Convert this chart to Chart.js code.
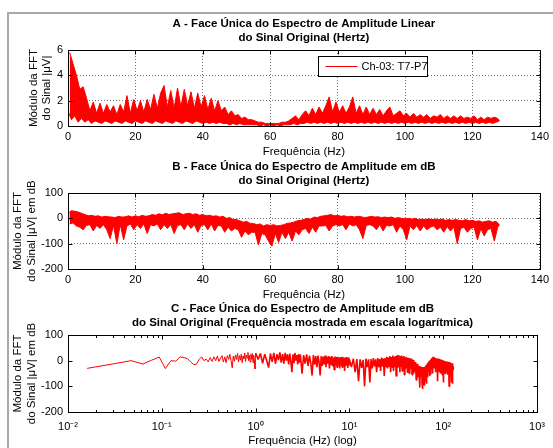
<!DOCTYPE html>
<html><head><meta charset="utf-8">
<script src="https://cdn.jsdelivr.net/npm/chart.js@4.4.1/dist/chart.umd.min.js"></script>
<style>
html,body{margin:0;padding:0;background:#fff;}
#wrap{position:relative;width:553px;height:448px;overflow:hidden;background:#fff;}
#frame{position:absolute;left:7px;top:12px;width:700px;height:600px;border-left:2px solid #a8a8a8;border-top:2px solid #a8a8a8;}
canvas{position:absolute;left:0;top:0;}
</style></head><body>
<div id="wrap"><div id="frame"></div>
<canvas id="cA" width="553" height="448"></canvas>
<canvas id="cB" width="553" height="448"></canvas>
<canvas id="cC" width="553" height="448"></canvas>
</div>
<script>
// ---------- DATA ----------
const freqStepHz = 0.5; // spacing of the sampled spectrum (0 .. 128 Hz)
const seriesLabel = 'Ch-03: T7-P7';
// Panel A : linear amplitude (µV)
const ampA = [
 1.2,5.8,0.5,4.9,0.8,4.0,0.3,2.9,0.6,3.1,
 0.3,2.2,0.5,1.2,0.2,1.9,0.4,1.0,0.3,1.8,
 0.2,1.0,0.4,1.7,0.3,1.1,0.2,1.6,0.4,0.9,
 0.3,1.7,0.2,1.1,0.4,2.4,0.3,1.0,0.2,2.1,
 0.4,1.2,0.3,2.0,0.2,1.1,0.4,2.1,0.3,1.3,
 0.2,2.5,0.4,1.4,0.3,2.6,0.2,3.2,0.4,1.5,
 0.3,2.8,0.2,1.4,0.4,3.0,0.3,1.5,0.2,2.9,
 0.4,1.6,0.3,2.7,0.2,1.4,0.4,2.6,0.3,1.5,
 0.2,2.4,0.3,1.3,0.2,2.2,0.3,1.2,0.2,2.0,
 0.3,1.2,0.2,1.5,0.2,0.9,0.1,1.2,0.2,0.8,
 0.1,0.9,0.2,0.6,0.1,0.7,0.1,0.5,0.1,0.5,
 0.1,0.4,0.1,0.3,0.0,0.3,0.1,0.2,0.0,0.2,
 0.1,0.2,0.0,0.2,0.1,0.2,0.0,0.3,0.1,0.3,
 0.1,0.4,0.1,0.6,0.2,0.8,0.1,0.5,0.2,0.9,
 0.2,1.2,0.3,0.8,0.2,1.4,0.3,0.9,0.2,1.5,
 0.3,1.0,0.2,1.6,0.3,2.3,0.2,1.1,0.3,1.9,
 0.2,1.1,0.3,1.6,0.2,1.0,0.3,1.5,0.2,2.3,
 0.3,1.0,0.2,1.6,0.3,0.9,0.2,1.5,0.3,0.9,
 0.2,1.4,0.3,0.9,0.2,1.3,0.3,0.8,0.2,1.2,
 0.3,1.5,0.2,0.8,0.3,1.0,0.2,1.2,0.3,0.8,
 0.2,1.0,0.3,0.7,0.2,1.0,0.3,0.7,0.2,0.9,
 0.3,0.7,0.2,0.9,0.3,0.6,0.2,0.8,0.3,0.7,
 0.2,0.9,0.3,0.6,0.2,0.8,0.3,0.6,0.2,0.8,
 0.3,0.6,0.2,0.8,0.3,0.6,0.2,0.7,0.3,0.6,
 0.2,0.8,0.3,0.5,0.2,0.7,0.3,0.5,0.2,0.7,
 0.3,0.6,0.2,0.7,0.3,0.6,0.4
];
// Panel B : amplitude in dB
const dbB = [
 20,-22,30,-18,28,-30,25,-35,20,-45,
 15,-28,10,-25,12,-50,8,-28,10,-40,
 5,-25,8,-45,6,-80,5,-28,3,-100,
 8,-25,5,-85,6,-30,10,-22,5,-45,
 10,-25,6,-40,12,-22,8,-60,10,-25,
 15,-30,12,-22,18,-45,14,-25,20,-40,
 15,-25,18,-60,20,-28,22,-25,15,-45,
 18,-22,20,-40,15,-25,18,-55,12,-28,
 15,-25,10,-45,12,-22,8,-50,10,-28,
 5,-30,8,-55,0,-35,3,-50,-5,-40,
 -5,-45,-10,-75,-15,-50,-12,-65,-20,-55,
 -20,-55,-25,-105,-22,-60,-30,-65,-25,-90,
 -28,-110,-25,-60,-30,-95,-28,-55,-25,-80,
 -20,-55,-18,-90,-15,-50,-10,-65,-8,-45,
 -5,-40,0,-60,-3,-35,5,-55,3,-30,
 8,-30,10,-28,12,-50,15,-30,10,-25,
 12,-30,8,-25,10,-45,6,-22,8,-30,
 5,-25,8,-45,6,-80,3,-28,5,-25,
 8,-30,5,-45,6,-25,3,-50,5,-28,
 3,-30,5,-25,0,-55,3,-30,0,-45,
 -2,-85,0,-30,-3,-45,0,-28,-5,-50,
 -3,-30,-5,-45,-2,-35,-5,-30,-3,-45,
 -5,-35,-3,-55,-8,-32,-5,-50,-8,-35,
 -5,-100,-8,-40,-10,-35,-5,-55,-10,-40,
 -8,-35,-12,-85,-10,-40,-15,-70,-12,-45,
 -10,-40,-15,-90,-12,-35,-25
];
// Panel C : low-frequency part (below 10 Hz); above 10 Hz it reuses dbB
const cLowFreq = [
 0.016,0.031,0.047,0.063,0.078,0.094,0.109,0.125,0.141,0.156,0.172,0.188,0.203,0.219,0.234,0.25,
 0.266,0.281,0.297,0.313,0.328,0.344,0.359,0.375,0.391,0.406,0.422,0.438,0.453,0.469,0.484,0.5,
 0.516,0.531,0.547,0.563,0.578,0.594,0.609,0.625,0.641,0.656,0.672,0.688,0.703,0.719,0.734,0.75,
 0.766,0.781,0.797,0.813,0.828,0.844,0.859,0.875,0.891,0.906,0.922,0.938,0.953,0.969,0.984,1.0,
 1.063,1.125,1.188,1.25,1.313,1.375,1.438,1.5,1.563,1.625,1.688,1.75,1.813,1.875,1.938,2.0,
 2.063,2.125,2.188,2.25,2.313,2.375,2.438,2.5,2.563,2.625,2.688,2.75,2.813,2.875,2.938,3.0,
 3.125,3.25,3.375,3.5,3.625,3.75,3.875,4.0,4.125,4.25,4.375,4.5,4.625,4.75,4.875,5.0,
 5.125,5.25,5.375,5.5,5.625,5.75,5.875,6.0,6.125,6.25,6.375,6.5,6.625,6.75,6.875,7.0,
 7.125,7.25,7.375,7.5,7.625,7.75,7.875,8.0,8.125,8.25,8.375,8.5,8.625,8.75,8.875,9.0,
 9.125,9.25,9.375,9.5,9.625,9.75,9.875
];
const cLowDb = [
 -30,-12,0,-13,2,14,-31,0,-2,15,12,8,-5,-15,-14,5,
 15,0,6,-5,12,-3,15,0,18,-3,10,20,-5,15,-8,20,
 5,25,0,-28,18,-2,22,5,28,-5,20,2,25,-8,18,8,
 30,-3,22,10,32,0,20,-5,25,5,28,-8,22,2,-32,30,
 5,28,-10,25,0,-27,28,-5,30,-12,25,2,32,-8,26,-12,
 30,0,25,-15,28,-5,-45,25,-10,30,0,22,-15,26,-8,24,
 -51,22,-12,25,-20,20,-10,-58,22,-15,18,-25,20,-8,-58,18,
 -20,16,-15,20,-25,15,-12,18,-30,15,-15,18,-22,12,-35,16,
 -18,14,-25,15,-15,12,-30,14,-20,12,-25,15,-15,10,-40,12,
 -22,14,-18,10,-28,12,-20
];
const cSplitHz = 10;
// Axes
const xTicksLin = [0,20,40,60,80,100,120,140];
const yTicksA = [0,2,4,6];
const yTicksDb = [-200,-100,0,100];
const xTicksLog = [0.01,0.1,1,10,100,1000];
const xTickLabelsLog = ['10\u207B\u00B2','10\u207B\u00B9','10\u2070','10\u00B9','10\u00B2','10\u00B3'];
const titleA = ['A - Face \u00DAnica do Espectro de Amplitude Linear','do Sinal Original (Hertz)'];
const titleB = ['B - Face \u00DAnica do Espectro de Amplitude em dB','do Sinal Original (Hertz)'];
const titleC = ['C - Face \u00DAnica do Espectro de Amplitude em dB','do Sinal Original (Frequ\u00EAncia mostrada em escala logar\u00EDtmica)'];
const yLabelA = ['M\u00F3dulo da FFT','do Sinal |\u03BCV|'];
const yLabelDb = ['M\u00F3dulo da FFT','do Sinal |\u03BCV| em dB'];
const xLabelLin = 'Frequ\u00EAncia (Hz)';
const xLabelLog = 'Frequ\u00EAncia (Hz) (log)';

// ---------- BUILD ----------
const FONT = "'Liberation Sans', Arial, sans-serif";
const RED = '#ff0000';
// Split each neighbouring pair of samples into the upper and lower edge of the dense noise band
function bandEdges(arr) {
  const hi = [], lo = [];
  for (let i = 0; i < arr.length; i += 2) {
    const p = {x:i*freqStepHz, y:arr[i]};
    const q = (i+1 < arr.length) ? {x:(i+1)*freqStepHz, y:arr[i+1]} : p;
    if (p.y >= q.y) { hi.push(p); lo.push(q); } else { hi.push(q); lo.push(p); }
  }
  return {hi, lo};
}
const ptsB = dbB.map((v,i)=>({x:i*freqStepHz, y:v}));
const ptsC = cLowFreq.map((f,i)=>({x:f, y:cLowDb[i]})).filter(p=>p.y!==undefined)
  .concat(ptsB.filter(p=>p.x>=cSplitHz));

function bandDatasets(arr) {
  const e = bandEdges(arr);
  return [
    { label:seriesLabel, data:e.hi, borderColor:RED, backgroundColor:RED, borderWidth:1, pointRadius:0, tension:0, fill:'+1' },
    { label:seriesLabel, data:e.lo, borderColor:RED, backgroundColor:RED, borderWidth:1, pointRadius:0, tension:0, fill:false }
  ];
}

const matlabPlugin = {
  id: 'matlab',
  afterDatasetsDraw(chart, args, opts) {
    const ctx = chart.ctx, a = chart.chartArea;
    const xs = chart.scales.x, ys = chart.scales.y;
    const L = Math.round(a.left)+0.5, R = Math.round(a.right)+0.5, T = Math.round(a.top)+0.5, B = Math.round(a.bottom)+0.5;
    ctx.save();
    ctx.strokeStyle = '#000'; ctx.lineWidth = 1;
    ctx.beginPath();
    const tk = 4;
    xs.ticks.forEach(t=>{ const p=Math.round(xs.getPixelForValue(t.value))+0.5; ctx.moveTo(p,B); ctx.lineTo(p,B-tk); ctx.moveTo(p,T); ctx.lineTo(p,T+tk); });
    ys.ticks.forEach(t=>{ const p=Math.round(ys.getPixelForValue(t.value))+0.5; ctx.moveTo(L,p); ctx.lineTo(L+tk,p); ctx.moveTo(R,p); ctx.lineTo(R-tk,p); });
    if (opts.minorLog) {
      for (let e=-2; e<3; e++) for (let m=2; m<10; m++) {
        const p=Math.round(xs.getPixelForValue(m*Math.pow(10,e)))+0.5;
        ctx.moveTo(p,B); ctx.lineTo(p,B-2.5); ctx.moveTo(p,T); ctx.lineTo(p,T+2.5);
      }
    }
    ctx.stroke();
    ctx.strokeRect(L,T,R-L,B-T);
    ctx.fillStyle='#000'; ctx.textAlign='center'; ctx.textBaseline='middle';
    ctx.font = 'bold 11.5px ' + FONT;
    const cx = (a.left+a.right)/2;
    (opts.title||[]).forEach((s,i)=>ctx.fillText(s, cx, a.top-26+13.5*i));
    if (opts.legend) {
      const lx = Math.round(a.left+250)+0.5, ly = Math.round(a.top+6)+0.5, lw=109, lh=20;
      ctx.fillStyle='#fff'; ctx.fillRect(lx,ly,lw,lh);
      ctx.strokeStyle='#000'; ctx.strokeRect(lx,ly,lw,lh);
      const ds = chart.data.datasets[0];
      ctx.strokeStyle = ds.borderColor; ctx.lineWidth = 1;
      ctx.beginPath(); ctx.moveTo(lx+7, ly+10); ctx.lineTo(lx+39, ly+10); ctx.stroke();
      ctx.fillStyle='#000'; ctx.textAlign='left'; ctx.font='11px '+FONT;
      ctx.fillText(ds.label, lx+43, ly+10.5);
    }
    ctx.restore();
  }
};

function makeChart(id, cfg) {
  const isLog = cfg.log;
  const xTitle = { display:true, text:cfg.xLabel, color:'#000', font:{family:FONT,size:11.5}, padding:{top:0,bottom:cfg.xTitlePad} };
  const xScale = isLog ? {
    type:'logarithmic', min:0.01, max:1000,
    afterBuildTicks: s => { s.ticks = xTicksLog.map(v=>({value:v})); },
    ticks:{ autoSkip:false, maxRotation:0, padding:cfg.xTickPad, color:'#000', font:{family:FONT,size:11},
            callback:(v,i)=>xTickLabelsLog[i] },
    grid:{ display:false, drawTicks:false },
    border:{ display:false },
    title: xTitle,
    afterFit: s => { s.height = 36; }
  } : {
    type:'linear', min:0, max:140,
    afterBuildTicks: s => { s.ticks = xTicksLin.map(v=>({value:v})); },
    ticks:{ autoSkip:false, maxRotation:0, padding:cfg.xTickPad, color:'#000', font:{family:FONT,size:11} },
    grid:{ display:true, drawTicks:false, color:'rgba(0,0,0,0.55)', lineWidth:1 },
    border:{ display:false, dash:[1,2] },
    title: xTitle,
    afterFit: s => { s.height = 36; }
  };
  return new Chart(document.getElementById(id), {
    type:'line',
    data:{ datasets: cfg.datasets },
    options:{
      responsive:false, animation:false, events:[],
      layout:{ padding:{ left:10, right:11, top:cfg.top, bottom:cfg.bottom } },
      scales:{
        x: xScale,
        y:{ type:'linear', min:cfg.yTicks[0], max:cfg.yTicks[cfg.yTicks.length-1],
            afterBuildTicks: s => { s.ticks = cfg.yTicks.map(v=>({value:v})); },
            ticks:{ padding:5, color:'#000', font:{family:FONT,size:11} },
            grid:{ display:!isLog, drawTicks:false, color:'rgba(0,0,0,0.55)', lineWidth:1 },
            border:{ display:false, dash:[1,2] },
            title:{ display:true, text:cfg.yLabel, color:'#000', font:{family:FONT,size:11.5}, padding:{top:cfg.yTitlePad,bottom:0} },
            afterFit: s => { s.width = 58; } }
      },
      plugins:{ legend:{display:false}, tooltip:{enabled:false}, title:{display:false}, filler:{propagate:false},
        matlab:{ title:cfg.title, legend:!!cfg.legend, minorLog:isLog } }
    },
    plugins:[matlabPlugin]
  });
}

makeChart('cA', { datasets:bandDatasets(ampA), top:50, bottom:448-126-36, yTicks:yTicksA, yLabel:yLabelA, xLabel:xLabelLin,
  title:titleA, legend:true, xTickPad:4, xTitlePad:3.1, yTitlePad:16.5 });
makeChart('cB', { datasets:bandDatasets(dbB), top:193, bottom:448-269-36, yTicks:yTicksDb, yLabel:yLabelDb, xLabel:xLabelLin,
  title:titleB, xTickPad:4, xTitlePad:3.1, yTitlePad:0.8 });
makeChart('cC', { datasets:[{ label:seriesLabel, data:ptsC, borderColor:RED, borderWidth:1, borderJoinStyle:'bevel',
    pointRadius:0, fill:false, tension:0, segment:{ borderWidth: c => (c.p0.parsed.x < 1 ? 1 : 1.6) } }],
  top:335, bottom:448-412-36, yTicks:yTicksDb, yLabel:yLabelDb, xLabel:xLabelLog,
  title:titleC, log:true, xTickPad:8, xTitlePad:0, yTitlePad:0.8 });
</script>
</body></html>
